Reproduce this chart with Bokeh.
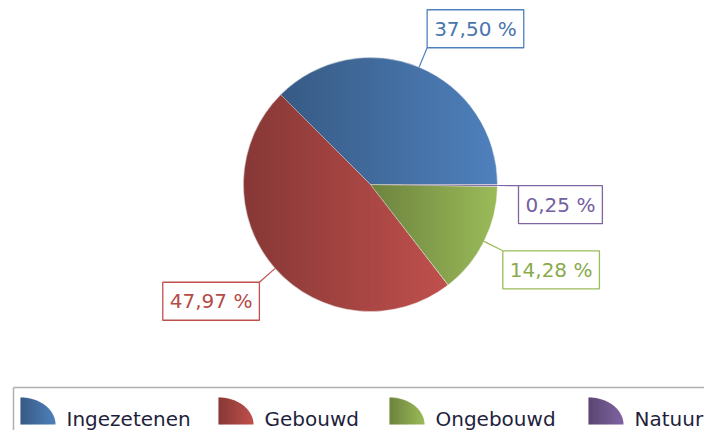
import numpy as np
from bokeh.plotting import figure
from bokeh.models import ColumnDataSource, Range1d
from bokeh.core.properties import value
from bokeh.embed import file_html
from bokeh.resources import INLINE

# ---- data ----
categories = ["Ingezetenen", "Gebouwd", "Ongebouwd", "Natuur"]
shares = [37.50, 47.97, 14.28, 0.25]

# ---- styles / layout ----
colors = ["#4f81bd", "#c0504d", "#9bbb59", "#8064a2"]
text_colors = ["#4876ad", "#b54a47", "#8aaa4c", "#7460a0"]
legend_x = [20, 218, 389, 588]
FONT = value("DejaVu Sans")

W, H = 704, 430
p = figure(width=W, height=H, x_range=Range1d(0, W), y_range=Range1d(-H, 0),
           output_backend="svg", toolbar_location=None, min_border=0,
           x_axis_type=None, y_axis_type=None)
p.grid.visible = False
p.outline_line_color = None
p.background_fill_color = "white"
p.border_fill_color = "white"

cx, cy, R = 370, -184, 127
total = float(sum(shares))
ang = np.cumsum([0.0] + list(shares)) / total * 2 * np.pi
start, end = ang[:-1], ang[1:]
mid = (start + end) / 2

pie = ColumnDataSource(dict(start=start, end=end, color=colors, cat=categories))
p.wedge(x=cx, y=cy, radius=R, start_angle="start", end_angle="end", source=pie,
        fill_color="color", line_color="white", line_width=0.8, line_alpha=0.6)

# horizontal gradient shading per slice (dark left -> light right)
N = 2 * R
x0, yb = cx - R, cy - R
X, Y = np.meshgrid(x0 + np.arange(N) + 0.5, yb + np.arange(N) + 0.5)
dx, dy = X - cx, Y - cy
d = np.hypot(dx, dy)
th = np.mod(np.arctan2(dy, dx), 2 * np.pi)
alpha = np.zeros_like(d)
for a0, a1 in zip(start, end):
    m = (th >= a0) & (th < a1) & (d <= R + 0.5)
    if m.any():
        xmin, xmax = X[m].min(), X[m].max()
        t = (X - xmin) / max(xmax - xmin, 1)
        alpha[m] = 0.30 * (1 - t[m])
alpha *= np.clip(R - d + 0.5, 0, 1)
img = np.zeros((N, N, 4), dtype=np.uint8)
img[..., 3] = np.round(alpha * 255).astype(np.uint8)
p.image_rgba(image=[img.view(np.uint32).reshape(N, N)], x=x0, y=yb, dw=N, dh=N)

# ---- data labels with leader lines ----
RL = 148
lx = cx + RL * np.cos(mid)
ly = cy + RL * np.sin(mid)
ex = cx + R * np.cos(mid)
ey = cy + R * np.sin(mid)
anchors = [("bottom" if s > 0 else "top") + "_" + ("left" if c >= 0 else "right")
           for c, s in zip(np.cos(mid), np.sin(mid))]
labels = [f"{v:.2f}".replace(".", ",") + " %" for v in shares]
lab = ColumnDataSource(dict(x=lx, y=ly, ex=ex, ey=ey, text=labels, anchor=anchors,
                            color=colors, tcolor=text_colors))
p.segment(x0="ex", y0="ey", x1="x", y1="y", source=lab, line_color="color", line_width=1.2)
p.text(x="x", y="y", text="text", source=lab, anchor="anchor", text_color="tcolor",
       text_font=FONT, text_font_size="20px", background_fill_color="white",
       border_line_color="color", border_line_width=1.3, padding=7)

# ---- legend ----
p.segment(x0=[13, 13], y0=[-387, -387], x1=[720, 13], y1=[-387, -440],
          line_color="#b0b0b0", line_width=1.5)
rx, ry, by = 35, 27, -424
tt = np.linspace(np.pi / 2, 0, 40)
pxs, pys = [], []
for lxp in legend_x:
    pxs.append([lxp, lxp] + list(lxp + rx * np.cos(tt)))
    pys.append([by, by + ry] + list(by + ry * np.sin(tt)))
p.patches(xs=pxs, ys=pys, fill_color=colors, line_color=None)
for lxp in legend_x:
    GX, GY = np.meshgrid(lxp + np.arange(rx) + 0.5, by + np.arange(ry) + 0.5)
    f = np.sqrt(((GX - lxp) / rx) ** 2 + ((GY - by) / ry) ** 2)
    cov = np.clip((1 - f) * ry + 0.5, 0, 1)
    a = 0.30 * (1 - (GX - lxp) / rx) * cov
    im = np.zeros((ry, rx, 4), dtype=np.uint8)
    im[..., 3] = np.round(a * 255).astype(np.uint8)
    p.image_rgba(image=[im.view(np.uint32).reshape(ry, rx)], x=lxp, y=by, dw=rx, dh=ry)
p.text(x=[v + 46 for v in legend_x], y=[-418] * len(categories), text=categories,
       text_color="#1f1f3d", text_font=FONT, text_font_size="20px",
       text_baseline="alphabetic", text_align="left")

open("out.html", "w").write(file_html(p, INLINE))
